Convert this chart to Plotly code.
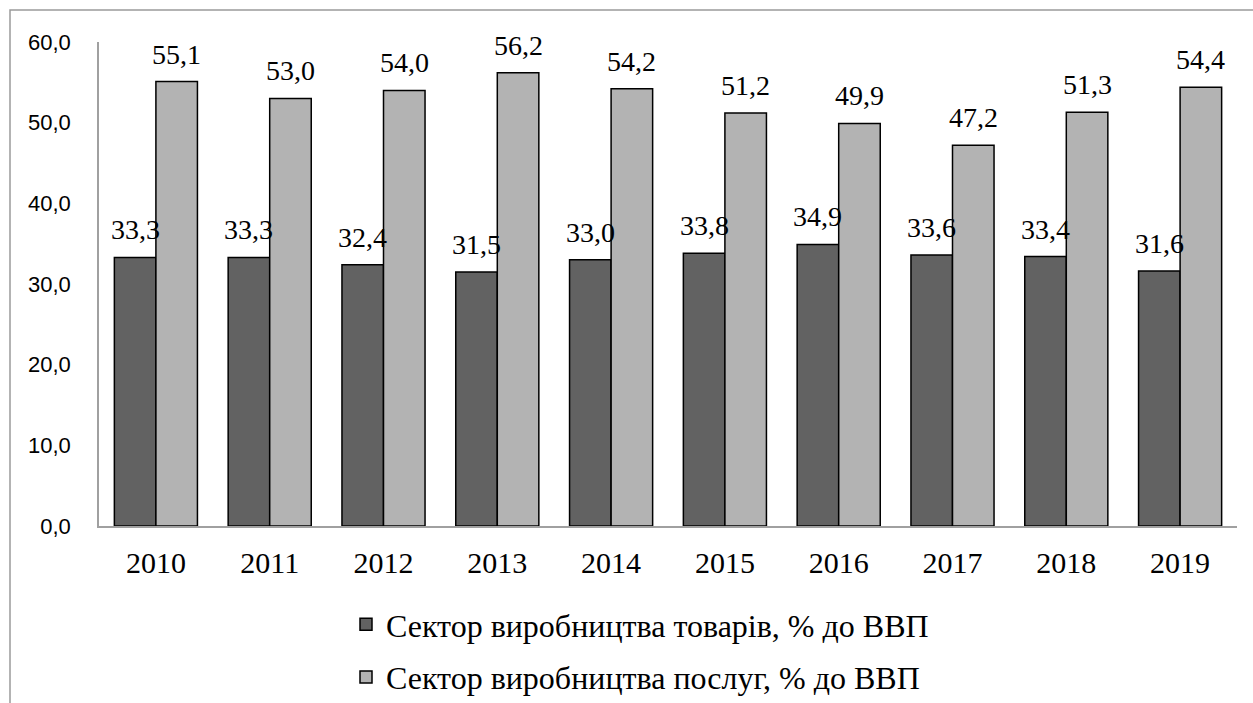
import plotly.graph_objects as go

years = ["2010", "2011", "2012", "2013", "2014", "2015", "2016", "2017", "2018", "2019"]
goods = [33.3, 33.3, 32.4, 31.5, 33.0, 33.8, 34.9, 33.6, 33.4, 31.6]
services = [55.1, 53.0, 54.0, 56.2, 54.2, 51.2, 49.9, 47.2, 51.3, 54.4]
name_goods = "Сектор виробництва товарів, % до ВВП"
name_services = "Сектор виробництва послуг, % до ВВП"
y_ticks = [0, 10, 20, 30, 40, 50, 60]


def fmt(v):
    return f"{v:.1f}".replace(".", ",")


serif = "Liberation Serif, Times New Roman, serif"
sans = "Liberation Sans, Arial, sans-serif"

W, H = 1253, 703
ML, MR, MT, MB = 99, 16, 42, 177
PW = W - ML - MR
PH = H - MT - MB
BARGAP = 0.27
half_bar = PW / len(years) * (1 - BARGAP) / 4

fig = go.Figure()
fig.add_trace(go.Bar(
    x=years, y=goods, name=name_goods, legendgroup="g1",
    marker=dict(color="#626262", line=dict(color="#000000", width=1.5)),
))
fig.add_trace(go.Bar(
    x=years, y=services, name=name_services, legendgroup="g2",
    marker=dict(color="#b3b3b3", line=dict(color="#000000", width=1.5)),
))

# value labels: category index on the x axis, value on the y axis
annotations = []
for series, shift in ((goods, -half_bar), (services, half_bar)):
    for i, v in enumerate(series):
        annotations.append(dict(
            x=i, y=v, xref="x", yref="y", text=fmt(v), showarrow=False,
            xanchor="center", yanchor="bottom", xshift=shift, yshift=10,
            font=dict(family=serif, size=28, color="#000000"),
        ))

fig.update_layout(
    width=W, height=H,
    margin=dict(l=ML, r=MR, t=MT, b=MB, autoexpand=False),
    paper_bgcolor="white", plot_bgcolor="white",
    barmode="group", bargap=BARGAP, bargroupgap=0,
    showlegend=True,
    legend=dict(
        orientation="v", x=(346 - ML) / PW, xanchor="left",
        y=(H - MB - 597) / PH, yanchor="top",
        font=dict(family=serif, size=32, color="#000000"),
        tracegroupgap=8, traceorder="grouped",
        bgcolor="rgba(0,0,0,0)",
    ),
    xaxis=dict(
        type="category", range=[-0.5, len(years) - 0.5],
        showline=True, linecolor="#a0a0a0", linewidth=1.5,
        showgrid=False, ticks="",
        tickfont=dict(family=serif, size=30, color="#000000"),
        ticklabelstandoff=9,
    ),
    yaxis=dict(
        range=[0, 60], tickvals=y_ticks,
        ticktext=[fmt(t) for t in y_ticks],
        showline=True, linecolor="#a0a0a0", linewidth=1.5,
        showgrid=False, zeroline=False, ticks="",
        tickfont=dict(family=sans, size=22, color="#000000"),
        ticklabelstandoff=22,
    ),
    annotations=annotations,
    shapes=[dict(
        type="rect", xref="paper", yref="paper",
        x0=(10 - ML) / PW, x1=(W + 50 - ML) / PW,
        y0=(H - MB - (H + 50)) / PH, y1=(H - MB - 10) / PH,
        line=dict(color="#9a9a9a", width=1.5), fillcolor="rgba(0,0,0,0)",
        layer="below",
    )],
)

fig.write_html("out.html", config={"displayModeBar": False},
               post_script="document.body.style.margin='0';")
